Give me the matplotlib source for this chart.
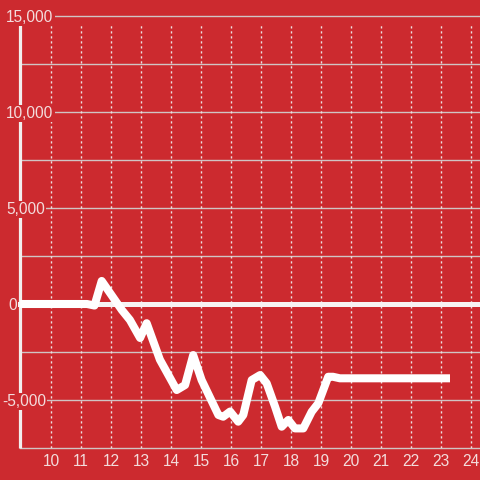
import matplotlib.pyplot as plt
import matplotlib.transforms as mtransforms

plt.rcParams['font.family'] = ['Liberation Sans', 'DejaVu Sans']

# hour of day vs value
horas = [8.97, 11.20, 11.45, 11.69, 12.36, 12.63, 12.97, 13.19, 13.63, 14.19, 14.47,
         14.74, 15.02, 15.58, 15.74, 15.97, 16.24, 16.41, 16.69, 16.97, 17.19,
         17.47, 17.69, 17.91, 18.13, 18.41, 18.69, 18.91, 19.24, 19.40, 19.63, 23.30]
valores = [0, 0, -80, 1200, -310, -830, -1770, -1000, -2900, -4480, -4220,
           -2660, -3960, -5780, -5870, -5600, -6130, -5780, -3960, -3700, -4130,
           -5350, -6390, -6040, -6480, -6480, -5610, -5170, -3790, -3790, -3870, -3870]

xticks = list(range(10, 25))
yticks_grid = [-7500, -5000, -2500, 2500, 5000, 7500, 10000, 12500, 15000]
yticks_lab = [15000, 10000, 5000, 0, -5000]
ytick_txt = ['15,000', '10,000', '5,000', '0', '-5,000']

rojo = '#cc2a2f'
texto = '#f3dcdc'

fig = plt.figure(figsize=(4.8, 4.8), dpi=100, facecolor=rojo)
ax = fig.add_axes([20/480, 32/480, 460/480, 432/480])
ax.set_facecolor(rojo)
ax.set_xlim(8.967, 24.3)
ax.set_ylim(-7500, 15000)
for s in ax.spines.values():
    s.set_visible(False)

# rejilla
for v in yticks_grid:
    ax.axhline(v, color='#d0c4c4', lw=1.0, zorder=1, clip_on=False)
ax.vlines(xticks, -7500, 14580, colors='#ece0e0', lw=1.0,
          linestyles=(0, (1.6, 2.0)), zorder=1)

# eje izquierdo y linea cero
ax.plot([8.967, 8.967], [-7500, 14580], color='#f2eeee', lw=2.3,
        clip_on=False, zorder=3, solid_capstyle='butt')
ax.plot([8.87, 24.3], [0, 0], color='#f7f3f3', lw=3.6, clip_on=False,
        zorder=4, solid_capstyle='butt')

# serie
ax.plot(horas, valores, color='white', lw=5.8, zorder=5,
        solid_joinstyle='round', solid_capstyle='butt')

# etiquetas
ax.set_yticks([])
ax.set_xticks(xticks)
ax.set_xticklabels([str(h) for h in xticks], fontsize=11.2, color=texto)
ax.tick_params(axis='x', length=0, pad=4)

trans = mtransforms.blended_transform_factory(fig.transFigure, ax.transData)
lab_x = [6, 6, 6, 8, 2]
for v, t, px in zip(yticks_lab, ytick_txt, lab_x):
    fig.text(px/480, v, t, transform=trans, ha='left', va='center_baseline',
             fontsize=11.2, color=texto, zorder=10,
             bbox=dict(facecolor=rojo, edgecolor='none', pad=1.0))

plt.savefig('out.png', dpi=100, facecolor=rojo)
